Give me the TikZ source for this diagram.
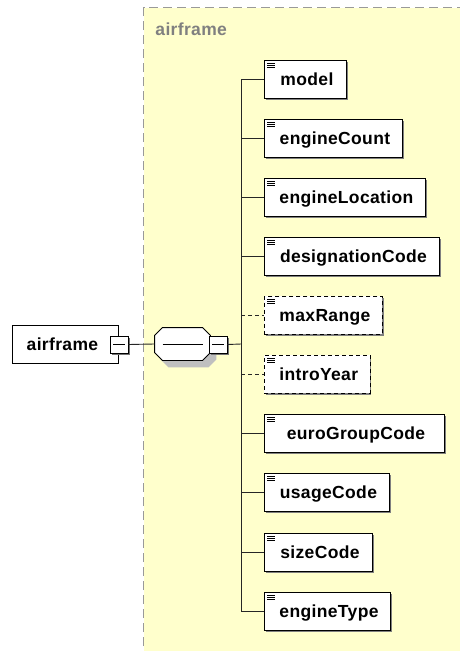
\documentclass[tikz,border=0pt]{standalone}
\usepackage{fontspec}
\setmainfont{Liberation Sans}[LetterSpace=2]
\usetikzlibrary{shadows}

\begin{document}
\begin{tikzpicture}[x=1pt,y=-1pt,
  font=\fontsize{17.5}{20}\selectfont\bfseries,
  line width=0.9pt,
  lbl/.style={text height=12.5pt, text depth=0pt},
  elem/.style={lbl, draw=black, fill=white, anchor=north west,
    minimum height=38pt, inner xsep=12pt, inner ysep=0pt,
    execute at begin node={\hspace*{3pt}},
    drop shadow={shadow xshift=1.2pt, shadow yshift=-1.2pt, fill=black!50, opacity=1},
    path picture={\foreach \d in {3,5,7}
      \draw[solid, line width=0.6pt] ([xshift=3pt,yshift=-\d*1pt]path picture bounding box.north west) -- ++(8,0);}},
  optelem/.style={elem, dashed, dash pattern=on 4pt off 3pt},
  port/.style={draw=black, fill=white, minimum width=18pt, minimum height=17pt, inner sep=0pt,
    drop shadow={shadow xshift=1.5pt, shadow yshift=-1.5pt, fill=black!55, opacity=1},
    path picture={\draw[line width=0.8pt] ([xshift=3pt]path picture bounding box.west) -- ([xshift=-3pt]path picture bounding box.east);}},
  link/.style={draw=black!85, line width=0.9pt},
  optlink/.style={link, dashed, dash pattern=on 4pt off 3pt},
  octagon/.style={line width=0.9pt},
]
\useasboundingbox (0,0) rectangle (460,651);

% complex type area
\fill[fill={rgb,255:red,255;green,255;blue,204}] (143.5,7.5) rectangle (470,660);
\draw[draw=black!40, line width=1.2pt, dash pattern=on 9pt off 5pt] (143.5,660) -- (143.5,7.5) -- (470,7.5);
\node[lbl, anchor=base west, text=black!50, inner sep=0pt] (typename) at (155,35) {airframe};

% root element
\node[lbl, draw=black, fill=white, anchor=north west, minimum width=106pt, minimum height=38pt,
  inner ysep=0pt] (root) at (12,325) {airframe\hspace*{6pt}};
\node[port] (rootport) at (119,344.5) {};

% sequence compositor: an octagon with a grey shadow
\node[minimum width=55pt, minimum height=32pt, inner sep=0pt] (seq) at (182.5,344) {};
\begin{scope}[transform canvas={xshift=6pt, yshift=-7pt}]
\fill[black!25]
  ([xshift=8pt]seq.north west) -- ([xshift=-8pt]seq.north east) -- ([yshift=-8pt]seq.north east)
  -- ([yshift=8pt]seq.south east) -- ([xshift=-8pt]seq.south east) -- ([xshift=8pt]seq.south west)
  -- ([yshift=8pt]seq.south west) -- ([yshift=-8pt]seq.north west) -- cycle;
\end{scope}
\filldraw[octagon, fill=white, draw=black]
  ([xshift=8pt]seq.north west) -- ([xshift=-8pt]seq.north east) -- ([yshift=-8pt]seq.north east)
  -- ([yshift=8pt]seq.south east) -- ([xshift=-8pt]seq.south east) -- ([xshift=8pt]seq.south west)
  -- ([yshift=8pt]seq.south west) -- ([yshift=-8pt]seq.north west) -- cycle;
\draw[line width=0.8pt] ([xshift=8pt]seq.west) -- ([xshift=-7pt]seq.east);
\node[port] (seqport) at (218,344.5) {};

\coordinate (bus) at (241,344);

% child elements
\node[elem, minimum width=82pt] (model) at (264,60) {model};
\node[elem, minimum width=138pt] (engineCount) at (264,119) {engineCount};
\node[elem, minimum width=160pt] (engineLocation) at (264,178) {engineLocation};
\node[elem, minimum width=175pt] (designationCode) at (264,237) {designationCode};
\node[optelem, minimum width=116pt] (maxRange) at (264,296) {maxRange};
\node[optelem, minimum width=105pt] (introYear) at (264,355) {introYear};
\node[elem, minimum width=180pt] (euroGroupCode) at (264,414) {euroGroupCode};
\node[elem, minimum width=125pt] (usageCode) at (264,473) {usageCode};
\node[elem, minimum width=108pt] (sizeCode) at (264,533) {sizeCode};
\node[elem, minimum width=126pt] (engineType) at (264,592) {engineType};

% connectors
\draw[link] (rootport.east) -- (seq.west);
\draw[link] (seqport.east) -- (bus);
\draw[link] (model.west -| bus) -- (engineType.west -| bus);
\foreach \n in {model,engineCount,engineLocation,designationCode,euroGroupCode,usageCode,sizeCode,engineType}
  \draw[link] (\n.west -| bus) -- (\n.west);
\foreach \n in {maxRange,introYear}
  \draw[optlink] (\n.west -| bus) -- (\n.west);
\end{tikzpicture}
\end{document}
